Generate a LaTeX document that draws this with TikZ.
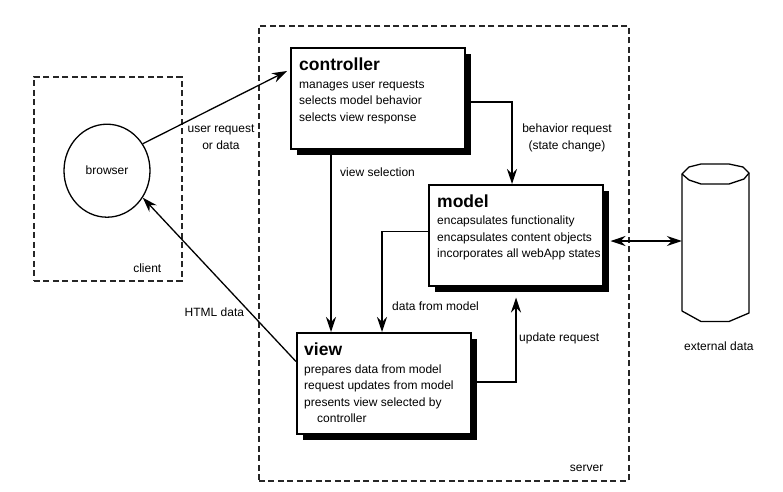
\documentclass[tikz,border=0pt]{standalone}
\usepackage{fontspec}
\setmainfont{Liberation Sans}
\usetikzlibrary{arrows.meta, positioning, shapes.geometric, shadows}
\tikzset{
  zone/.style={
    draw=black!85, line width=1.5pt, dash pattern=on 6pt off 3.5pt,
    anchor=north west, inner sep=0pt
  },
  mvcbox/.style={
    rectangle, draw, line width=1.5pt, fill=white, anchor=north west,
    minimum width=174pt, minimum height=101pt, inner sep=0pt,
    drop shadow={shadow xshift=6pt, shadow yshift=-6pt, opacity=1, fill=black}
  },
  boxtext/.style={align=left, inner sep=0pt, font=\fontsize{12}{16.5}\selectfont},
  lbl/.style={align=center, inner sep=0pt, font=\fontsize{12}{17}\selectfont},
  flow/.style={-{Stealth[length=15pt, width=10pt, inset=5pt]}, line width=1.3pt},
  dflow/.style={{Stealth[length=15pt, width=10pt, inset=5pt]}-{Stealth[length=15pt, width=10pt, inset=5pt]}, line width=1.3pt}
}
\newcommand{\mvchead}[1]{{\fontsize{17.5}{17.5}\selectfont\bfseries #1}}

\begin{document}
\begin{tikzpicture}[x=1pt, y=-1pt]
\useasboundingbox (0,0) rectangle (783,491);

% -------- CLIENT SIDE --------
\node[zone, minimum width=148pt, minimum height=204pt] (client) at (33,76) {};
\node[lbl, above left=8.5pt and 21pt of client.south east] (clientlbl) {client};
\node[ellipse, draw, line width=1.3pt, minimum width=86pt, minimum height=93pt,
      inner sep=0pt, font=\fontsize{12}{13}\selectfont] (browser) at (107,170.7) {browser};

% -------- SERVER SIDE --------
\node[zone, minimum width=370pt, minimum height=455pt] (server) at (258,25) {};
\node[lbl, above left=9.5pt and 26pt of server.south east] (serverlbl) {server};

\foreach \n/\x/\y in {ctrl/290/47, model/428/184, view/296/332}
  \node[mvcbox] (\n) at (\x,\y) {};

\node[boxtext, below right=11pt and 9pt of ctrl.north west] (ctrltxt)
  {\mvchead{controller}\\[1pt] manages user requests\\ selects model behavior\\ selects view response};
\node[boxtext, below right=10.5pt and 9pt of model.north west] (modeltxt)
  {\mvchead{model}\\[1pt] encapsulates functionality\\ encapsulates content objects\\ incorporates all webApp states};
\node[boxtext, below right=10.5pt and 8pt of view.north west] (viewtxt)
  {\mvchead{view}\\[1.5pt] prepares data from model\\ request updates from model\\ presents view selected by\\ \hspace*{13pt}controller};

% -------- EXTERNAL DATA --------
\node[inner sep=0pt, minimum width=67pt, minimum height=158pt] (ext) at (715.5,243) {};
\draw[line width=1.3pt, line join=round, fill=white]
  (682,174) -- (682,311) -- (701,321.5) -- (729,321.5) -- (749,313) -- (749,173)
  -- (743,167) -- (729,164) -- (701,164) -- (689,167) -- cycle;
\draw[line width=1.3pt, line join=round]
  (682,174) -- (689,180) -- (701,184) -- (729,184) -- (744,179) -- (749,173);
\node[lbl, anchor=base west] (extlbl) at (684,350) {external data};

% -------- CONNECTORS --------
\draw[flow] (browser.37.5) -- ([xshift=-3pt, yshift=-24pt]ctrl.north west);
\draw[flow] ([yshift=-29.5pt]view.north west) -- (browser.-37.5);
\draw[flow] ([xshift=41pt]ctrl.south west) -- ([xshift=41pt]ctrl.south west |- view.north);
\draw[flow] ([yshift=-55pt]ctrl.north east) -| ([xshift=84pt]model.north west);
\draw[flow] ([yshift=-47.5pt]model.north west) -| ([xshift=86pt]view.north west);
\draw[flow] ([yshift=-50pt]view.north east) -| ([xshift=88pt, yshift=-11pt]model.south west);
\coordinate (mdlio) at ([xshift=7pt, yshift=-57pt]model.north east);
\draw[dflow] (mdlio) -- (mdlio -| ext.west);

% -------- CONNECTOR LABELS --------
\node[lbl] (reqlbl) at (221,137.5) {user request\\or data};
\node[lbl, anchor=base west] (htmllbl) at (184.5,316.5) {HTML data};
\node[lbl, anchor=base west] (sellbl) at (340,176.5) {view selection};
\node[lbl] (behlbl) at (567,137.5) {behavior request\\(state change)};
\node[lbl, anchor=base west] (datalbl) at (392,310.5) {data from model};
\node[lbl, anchor=base west] (updlbl) at (519,341.5) {update request};

\end{tikzpicture}
\end{document}
